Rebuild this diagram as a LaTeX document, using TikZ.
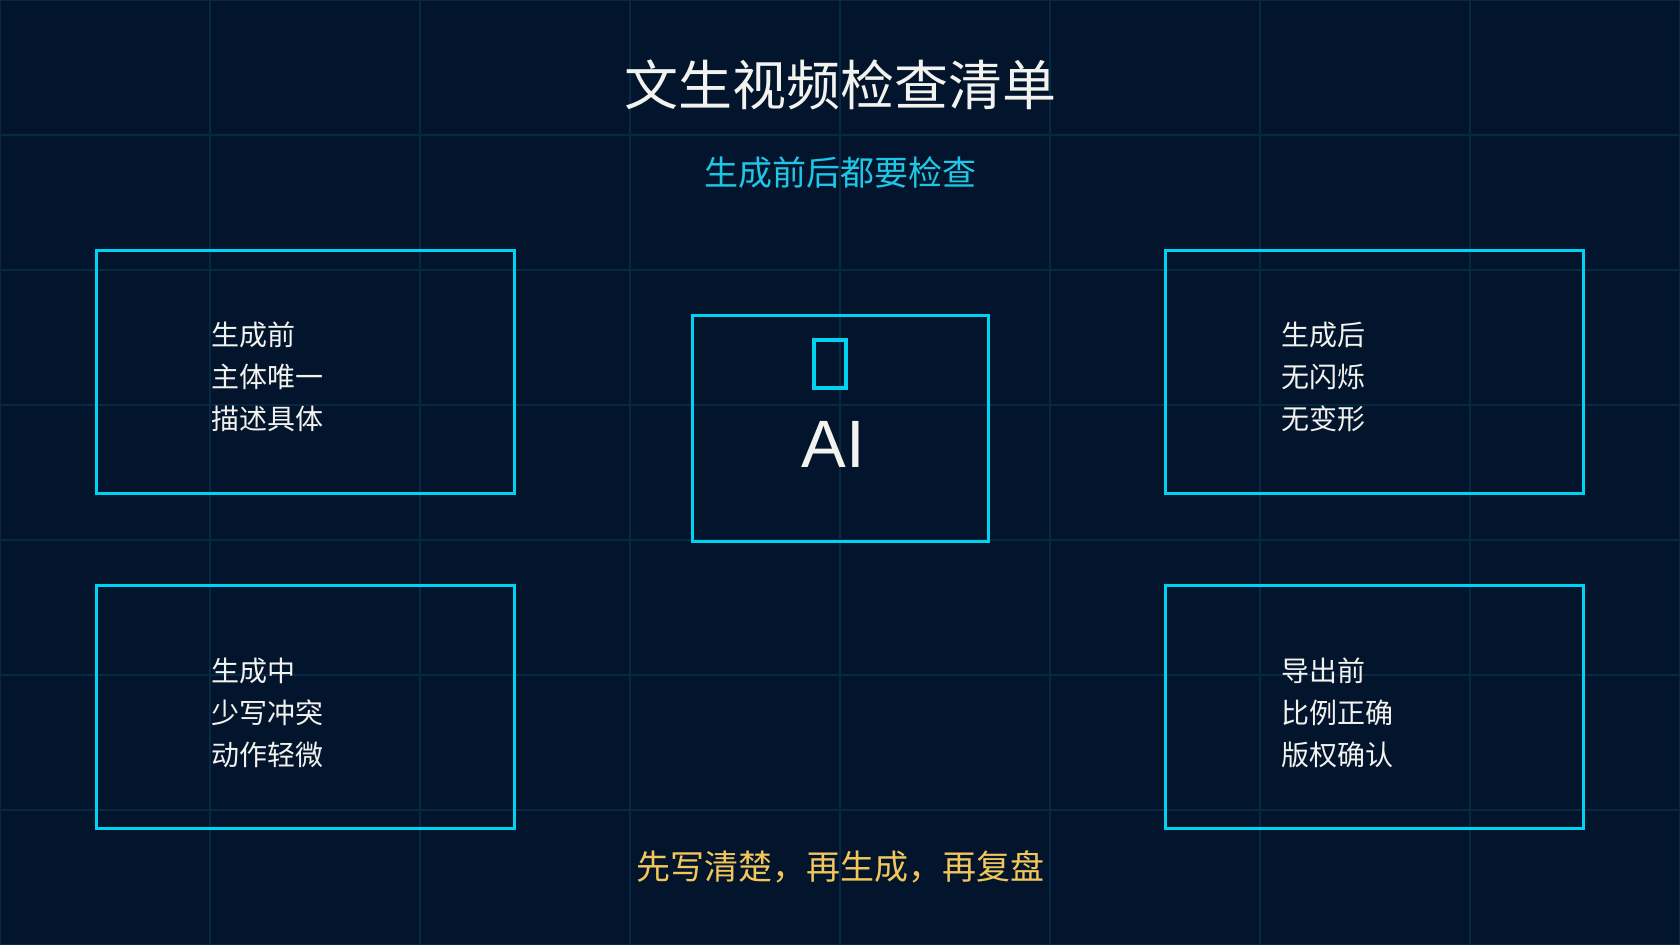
\documentclass[tikz,border=0pt]{standalone}
\usepackage{fontspec}
\setmainfont{Liberation Sans}
\newfontfamily\cjk{Noto Sans CJK SC}
\newfontfamily\lat{Liberation Sans}
\definecolor{bgc}{HTML}{03152D}
\definecolor{gridc}{HTML}{072A42}
\definecolor{cyanc}{HTML}{00D2F2}
\definecolor{subc}{HTML}{1FC6E6}
\definecolor{goldc}{HTML}{F2C65A}
\definecolor{whitec}{HTML}{F2F2EE}
\begin{document}
\begin{tikzpicture}[x=0.5pt,y=-0.5pt,
  panel/.style={draw=cyanc, line width=1.5pt, rectangle, inner sep=0pt},
  bigpanel/.style={panel, minimum width=209pt, minimum height=121.5pt},
  boxtext/.style={anchor=west, align=left, inner sep=0pt, text=whitec,
    font=\cjk\fontsize{14}{21}\selectfont},
  gridline/.style={draw=gridc, line width=0.7pt}]
\fill[bgc] (0,0) rectangle (1680,945);
\useasboundingbox (0,0) rectangle (1680,945);
% grid
\foreach \gx in {0,210,...,1680} \draw[gridline] (\gx,0) -- (\gx,945);
\foreach \gy in {0,135,...,945} \draw[gridline] (0,\gy) -- (1680,\gy);
% titles
\node[text=whitec, font=\cjk\fontsize{27}{30}\selectfont] (title) at (840,85) {文生视频检查清单};
\node[text=subc, font=\cjk\fontsize{17}{20}\selectfont] (sub) at (840,173) {生成前后都要检查};
% panels
\node[bigpanel] (tl) at (305,372.5) {};
\node[bigpanel] (tr) at (1374.5,372.5) {};
\node[bigpanel] (bl) at (305,707) {};
\node[bigpanel] (br) at (1374.5,707) {};
\node[panel, minimum width=148pt, minimum height=113pt] (center) at (840,429) {};
% icon and AI
\node[draw=cyanc, line width=2pt, minimum width=16pt, minimum height=24pt, inner sep=0pt] (icon) at (830,364) {};
\node[text=whitec, font=\lat\fontsize{33.5}{36}\selectfont, anchor=base] (ai) at (833,468) {AI};
% texts
\node[boxtext] (ttl) at (211,377) {生成前\\主体唯一\\描述具体};
\node[boxtext] (ttr) at (1281,377) {生成后\\无闪烁\\无变形};
\node[boxtext] (tbl) at (211,713) {生成中\\少写冲突\\动作轻微};
\node[boxtext] (tbr) at (1281,713) {导出前\\比例正确\\版权确认};
% footer
\node[text=goldc, font=\cjk\fontsize{17}{20}\selectfont] (foot) at (840,867) {先写清楚，再生成，再复盘};
\end{tikzpicture}
\end{document}
